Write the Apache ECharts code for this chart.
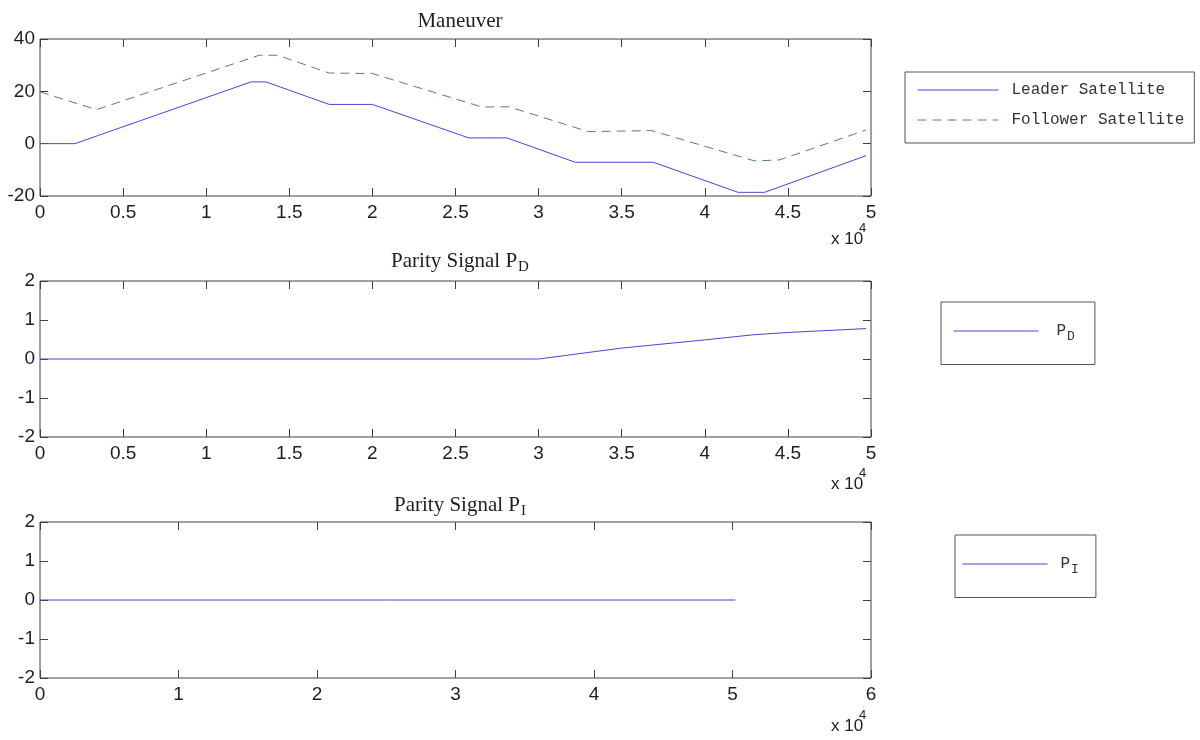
<!DOCTYPE html>
<html><head><meta charset="utf-8">
<script src="https://cdn.jsdelivr.net/npm/echarts@6/dist/echarts.min.js"></script>
<style>html,body{margin:0;padding:0;background:#fff}#c{width:1200px;height:740px}</style>
</head><body><div id="c"></div>
<script>
// ---- data (time in seconds) ----
const leaderT   = [0, 2100, 12700, 13600, 17400, 20000, 25800, 28100, 32200, 36900, 42000, 43600, 49700];
const leaderV   = [0, 0, 23.6, 23.6, 15, 15, 2.2, 2.2, -7.1, -7.1, -18.6, -18.6, -4.6];
const followerT = [0, 3400, 13200, 14300, 17400, 20000, 26600, 28200, 33000, 36800, 43000, 44500, 49700];
const followerV = [19.8, 13, 33.8, 33.8, 27, 26.8, 14, 14.1, 4.6, 5.0, -6.6, -6.2, 5.2];
const pdT = [0, 30000, 35000, 40000, 42900, 45000, 49700];
const pdV = [0, 0, 0.28, 0.49, 0.62, 0.68, 0.78];
const piT = [0, 50200];
const piV = [0, 0];

const titles = ['Maneuver', 'Parity Signal P', 'Parity Signal P'];
const titleSubs = ['', 'D', 'I'];
const seriesNames = ['Leader Satellite', 'Follower Satellite', 'P_D', 'P_I'];

const zip = (t, v) => t.map((x, i) => [x, v[i]]);

const SANS = 'Liberation Sans';
const SERIF = 'Liberation Serif';
const MONO = 'Liberation Mono';
const AX = '#404040';
const TXT = '#1e1e1e';

const grids = [
  {left: 40, top: 39, width: 831, height: 157},
  {left: 40, top: 281, width: 831, height: 156},
  {left: 40, top: 522, width: 831, height: 156}
].map(g => Object.assign({show: true, borderColor: AX, borderWidth: 1, backgroundColor: '#fff'}, g));

const xRanges = [[0, 50000, 5000], [0, 50000, 5000], [0, 60000, 10000]];
const yRanges = [[-20, 40, 20], [-2, 2, 1], [-2, 2, 1]];

const xAxis = [], yAxis = [];
for (let g = 0; g < 3; g++) {
  for (const pos of ['bottom', 'top']) {
    const main = pos === 'bottom';
    xAxis.push({
      type: 'value', gridIndex: g, position: pos,
      min: xRanges[g][0], max: xRanges[g][1], interval: xRanges[g][2],
      axisLine: {show: false, onZero: false}, splitLine: {show: false},
      axisTick: {show: true, inside: true, length: 8, lineStyle: {color: AX}},
      axisLabel: main ? {show: true, margin: 7, color: TXT, fontFamily: SANS, fontSize: 19,
        showMinLabel: true, showMaxLabel: true, formatter: v => String(v / 10000)} : {show: false}
    });
  }
  for (const pos of ['left', 'right']) {
    const main = pos === 'left';
    yAxis.push({
      type: 'value', gridIndex: g, position: pos,
      min: yRanges[g][0], max: yRanges[g][1], interval: yRanges[g][2],
      axisLine: {show: false, onZero: false}, splitLine: {show: false},
      axisTick: {show: true, inside: true, length: 8, lineStyle: {color: AX}},
      axisLabel: main ? {show: true, margin: 5, color: TXT, fontFamily: SANS, fontSize: 19,
        showMinLabel: true, showMaxLabel: true} : {show: false}
    });
  }
}

const BLUE = '#4646d8';
const GREEN = '#4e8a4e';
const lineSeries = (name, data, gi, style) => ({
  name, type: 'line', data, xAxisIndex: gi * 2, yAxisIndex: gi * 2,
  symbol: 'none', showSymbol: false, animation: false, silent: true,
  lineStyle: style, itemStyle: {color: style.color}
});

const series = [
  lineSeries(seriesNames[0], zip(leaderT, leaderV), 0, {color: BLUE, width: 1}),
  lineSeries(seriesNames[1], zip(followerT, followerV), 0, {color: GREEN, width: 1, type: [9, 6]}),
  lineSeries(seriesNames[2], zip(pdT, pdV), 1, {color: BLUE, width: 1}),
  lineSeries(seriesNames[3], zip(piT, piV), 2, {color: BLUE, width: 1})
];

const subFmt = name => {
  const p = name.split('_');
  return p.length > 1 ? '{n|' + p[0] + '}{s|' + p[1] + '}' : name;
};
const legendText = {
  fontFamily: MONO, fontSize: 16, color: '#333',
  rich: {
    n: {fontFamily: MONO, fontSize: 16, color: '#333'},
    s: {fontFamily: MONO, fontSize: 13, color: '#333', padding: [12, 0, 0, 1]}
  }
};
const legendBase = {
  orient: 'vertical', selectedMode: false, borderColor: '#555', borderWidth: 1,
  backgroundColor: '#fff', itemHeight: 12, formatter: subFmt,
  itemStyle: {opacity: 0, borderWidth: 0},
  lineStyle: {width: 1}
};
const legend = [
  Object.assign({}, legendBase, {
    data: [seriesNames[0], seriesNames[1]], left: 905, top: 72,
    padding: [10, 10, 15, 12], itemWidth: 81, itemGap: 14,
    textStyle: Object.assign({}, legendText, {padding: [0, 0, 0, 8]})
  }),
  Object.assign({}, legendBase, {
    data: [seriesNames[2]], left: 941, top: 302,
    padding: [21, 20, 21, 12], itemWidth: 85,
    textStyle: Object.assign({}, legendText, {padding: [0, 0, 0, 13]})
  }),
  Object.assign({}, legendBase, {
    data: [seriesNames[3]], left: 955, top: 535,
    padding: [21, 17, 21, 7], itemWidth: 85,
    textStyle: Object.assign({}, legendText, {padding: [0, 0, 0, 8]})
  })
];

// titles and "x 10^4" exponent labels
const titleY = [21, 261, 505];
const expY = [245, 490, 732];
const graphic = [];
for (let g = 0; g < 3; g++) {
  graphic.push({
    type: 'text', silent: true, position: [460, titleY[g]],
    style: {
      text: titleSubs[g] ? '{n|' + titles[g] + '}{s|' + titleSubs[g] + '}' : titles[g],
      fill: TXT, font: '21px "' + SERIF + '"',
      rich: {
        n: {fontFamily: SERIF, fontSize: 21, fill: TXT},
        s: {fontFamily: SERIF, fontSize: 15, fill: TXT, padding: [13, 0, 0, 1]}
      },
      align: 'center', verticalAlign: 'middle'
    }
  });
  graphic.push({
    type: 'text', silent: true, position: [831, expY[g] - 6],
    style: {text: 'x 10', fill: TXT, font: '17px "' + SANS + '"', align: 'left', verticalAlign: 'middle'}
  });
  graphic.push({
    type: 'text', silent: true, position: [859, expY[g] - 17],
    style: {text: '4', fill: TXT, font: '13px "' + SANS + '"', align: 'left', verticalAlign: 'middle'}
  });
}

const chart = echarts.init(document.getElementById('c'), null, {renderer: 'canvas'});
chart.setOption({
  animation: false, backgroundColor: '#fff',
  grid: grids, xAxis, yAxis, series, legend, graphic
});
</script></body></html>
